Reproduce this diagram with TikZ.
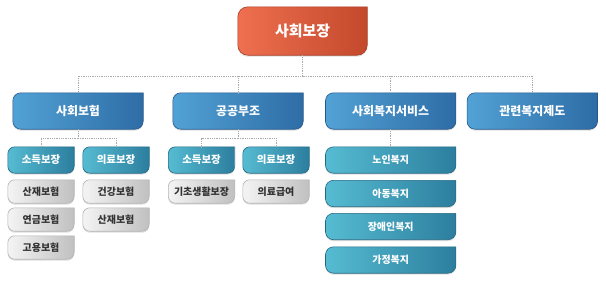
\documentclass[tikz,border=0pt]{standalone}
\usepackage{fontspec}
\setmainfont{Noto Sans CJK KR}
\usetikzlibrary{positioning,calc,shadows,backgrounds}
\definecolor{rootA}{RGB}{238,112,80}
\definecolor{rootB}{RGB}{196,72,44}
\definecolor{rootC}{RGB}{168,58,34}
\definecolor{blueA}{RGB}{82,162,214}
\definecolor{blueB}{RGB}{46,108,166}
\definecolor{blueC}{RGB}{36,88,138}
\definecolor{tealA}{RGB}{86,188,210}
\definecolor{tealB}{RGB}{44,126,158}
\definecolor{tealC}{RGB}{34,104,132}
\definecolor{greyA}{RGB}{244,244,244}
\definecolor{greyB}{RGB}{192,192,192}
\definecolor{greyC}{RGB}{180,180,180}
\definecolor{linkgrey}{RGB}{170,170,170}
% tab box: all corners round but the top right one
\newcommand{\tabshape}[2]{(#1.north east) -- ([xshift=#2]#1.north west) arc[start angle=90,end angle=180,radius=#2] -- ([yshift=#2]#1.south west) arc[start angle=180,end angle=270,radius=#2] -- ([xshift=-#2]#1.south east) arc[start angle=270,end angle=360,radius=#2] -- cycle}
\newcommand{\tabfill}[5]{\shade[left color=#2,right color=#3,draw=#4,line width=0.6bp,drop shadow={shadow xshift=0bp,shadow yshift=-1.5bp,opacity=0.25}] \tabshape{#1}{#5};}
\tikzset{
  rootnode/.style={minimum width=129bp,minimum height=48bp,inner sep=0pt,text=white,font=\bfseries\fontsize{15}{18}\selectfont},
  mainnode/.style={minimum width=130bp,minimum height=36bp,inner sep=0pt,text=white,font=\bfseries\fontsize{12}{14}\selectfont},
  subnode/.style={minimum width=66bp,minimum height=26bp,inner sep=0pt,text=white,font=\bfseries\fontsize{10.5}{12}\selectfont},
  itemnode/.style={minimum width=66bp,minimum height=23bp,inner sep=0pt,text=black!80,font=\bfseries\fontsize{10}{12}\selectfont},
  servnode/.style={minimum width=130bp,minimum height=26bp,inner sep=0pt,text=white,font=\bfseries\fontsize{10}{12}\selectfont},
  link/.style={draw=linkgrey,densely dotted,line width=0.8bp}
}

\begin{document}
\begin{tikzpicture}[x=1bp,y=1bp]
  \useasboundingbox (0,0) rectangle (606,284);
  % top
  \node[rootnode] (root) at (302.5,253) {사회보장};
  % first level
  \node[mainnode] (ins) at (78,173) {사회보험};
  \node[mainnode] (aid) at (238,173) {공공부조};
  \node[mainnode] (svc) at (390.7,173) {사회복지서비스};
  \node[mainnode] (rel) at (532.3,173) {관련복지제도};
  % social insurance
  \node[subnode] (insinc) at (41,124) {소득보장};
  \node[subnode] (insmed) at (116,124) {의료보장};
  \node[itemnode] (insincA) at (41,92.5) {산재보험};
  \node[itemnode] (insincB) at (41,64.5) {연금보험};
  \node[itemnode] (insincC) at (41,36.5) {고용보험};
  \node[itemnode] (insmedA) at (116,92.5) {건강보험};
  \node[itemnode] (insmedB) at (116,64.5) {산재보험};
  % public aid
  \node[subnode] (aidinc) at (201.5,124) {소득보장};
  \node[subnode] (aidmed) at (276,124) {의료보장};
  \node[itemnode] (aidincA) at (201.5,92.5) {기초생활보장};
  \node[itemnode] (aidmedA) at (276,92.5) {의료급여};
  % welfare services
  \node[servnode] (svcold) at (390.7,124) {노인복지};
  \node[servnode] (svcchild) at (390.7,90.5) {아동복지};
  \node[servnode] (svcdis) at (390.7,57.5) {장애인복지};
  \node[servnode] (svcfam) at (390.7,24) {가정복지};

  \begin{scope}[on background layer]
    \fill[white] (0,0) rectangle (606,284);
    \tabfill{root}{rootA}{rootB}{rootC}{10bp}
    \tabfill{ins}{blueA}{blueB}{blueC}{8bp} \tabfill{aid}{blueA}{blueB}{blueC}{8bp}
    \tabfill{svc}{blueA}{blueB}{blueC}{8bp} \tabfill{rel}{blueA}{blueB}{blueC}{8bp}
    \tabfill{insinc}{tealA}{tealB}{tealC}{7bp} \tabfill{insmed}{tealA}{tealB}{tealC}{7bp}
    \tabfill{aidinc}{tealA}{tealB}{tealC}{7bp} \tabfill{aidmed}{tealA}{tealB}{tealC}{7bp}
    \tabfill{insincA}{greyA}{greyB}{greyC}{7bp} \tabfill{insincB}{greyA}{greyB}{greyC}{7bp}
    \tabfill{insincC}{greyA}{greyB}{greyC}{7bp} \tabfill{insmedA}{greyA}{greyB}{greyC}{7bp}
    \tabfill{insmedB}{greyA}{greyB}{greyC}{7bp} \tabfill{aidincA}{greyA}{greyB}{greyC}{7bp}
    \tabfill{aidmedA}{greyA}{greyB}{greyC}{7bp}
    \tabfill{svcold}{tealA}{tealB}{tealC}{8bp} \tabfill{svcchild}{tealA}{tealB}{tealC}{8bp}
    \tabfill{svcdis}{tealA}{tealB}{tealC}{8bp} \tabfill{svcfam}{tealA}{tealB}{tealC}{8bp}
  \end{scope}

  % dotted links
  \draw[link] (root.south) -- ++(0,-21) coordinate (rootbus);
  \draw[link] (rootbus) -| (ins.north);
  \draw[link] (rootbus) -| (aid.north);
  \draw[link] (rootbus) -| (svc.north);
  \draw[link] (rootbus) -| (rel.north);
  \draw[link] (ins.south) -- ++(0,-9) coordinate (insbus);
  \draw[link] (insbus) -| (insinc.north);
  \draw[link] (insbus) -| (insmed.north);
  \draw[link] (aid.south) -- ++(0,-9) coordinate (aidbus);
  \draw[link] (aidbus) -| (aidinc.north);
  \draw[link] (aidbus) -| (aidmed.north);
  \draw[link] (svc.south) -- (svcold.north);
\end{tikzpicture}
\end{document}
